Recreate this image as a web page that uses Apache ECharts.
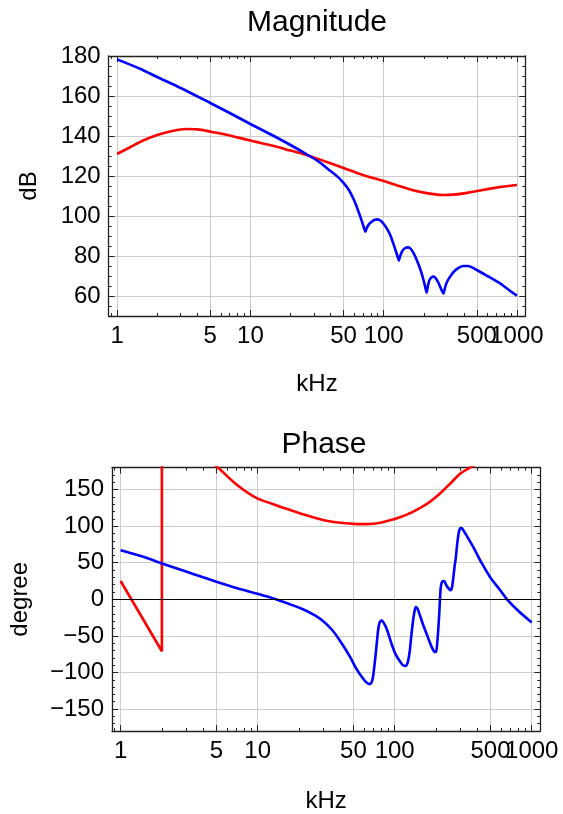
<!DOCTYPE html>
<html><head><meta charset="utf-8">
<script src="https://cdn.jsdelivr.net/npm/echarts@6/dist/echarts.min.js"></script>
<style>html,body{margin:0;padding:0;background:#fff}#c{width:563px;height:814px}</style>
</head><body><div id="c"></div>
<script>
// ---------- tick labels ----------
const freqTicksMajor = [1, 5, 10, 50, 100, 500, 1000];
const freqTicksMinor = [0.9, 2, 3, 4, 6, 7, 8, 9, 20, 30, 40, 60, 70, 80, 90, 200, 300, 400, 600, 700, 800, 900];
const magTicksMajor = [60, 80, 100, 120, 140, 160, 180];
const magTicksMinor = [50, 55, 65, 70, 75, 85, 90, 95, 105, 110, 115, 125, 130, 135, 145, 150, 155, 165, 170, 175];
const phaseTicksMajor = [-150, -100, -50, 0, 50, 100, 150];
const phaseTicksMinor = [-170, -160, -140, -130, -120, -110, -90, -80, -70, -60, -40, -30, -20, -10,
  10, 20, 30, 40, 60, 70, 80, 90, 110, 120, 130, 140, 160, 170];

// ---------- Magnitude (dB) ----------
const magBlueFreq = [1, 1.5, 2, 3, 5, 7, 10, 15, 20, 27, 33, 38.5, 45, 50, 55, 59.3, 63, 66.5, 69, 71, 73,
  74.5, 77, 80, 85, 89.7, 95, 100, 105.5, 112, 118, 124, 127.5, 130, 133, 138, 145, 153, 160, 168, 177,
  188, 199, 205, 210, 214, 220, 230, 239, 248, 258, 268, 276, 281, 287, 296, 315, 340, 370, 396, 430,
  499, 600, 747, 870, 1000];
const magBlueDb = [178.3, 173.5, 169.5, 164, 156.5, 151.5, 146, 140, 135.5, 130.5, 126.9, 123.3, 119.7, 116.6,
  112.9, 108.6, 104.4, 100, 96.8, 94.3, 92.2, 93.8, 95.6, 96.8, 98, 98.3, 97.6, 96, 93.8, 90.5, 86.3, 82, 79.5,
  77.7, 80, 82.5, 84, 84.3, 83.5, 81.3, 78, 73.5, 68, 64.5, 61.7, 64.5, 67.7, 69.5, 69.7, 68.5, 66.5, 64,
  62, 61.3, 63.5, 66.5, 69.7, 72.5, 74.3, 75, 75, 73, 70, 66.3, 63, 60.2];
const magRedFreq = [1, 1.3, 1.6, 2, 2.5, 3.3, 4, 5, 7, 10, 15, 20, 27, 35, 50, 70, 100, 150, 200, 280,
  350, 400, 500, 700, 1000];
const magRedDb = [131, 135, 138, 140.5, 142.3, 143.5, 143.3, 142.2, 140.3, 137.7, 135, 132.7, 130.3,
  127.7, 124, 120.5, 117.5, 113.8, 111.7, 110.5, 110.8, 111.3, 112.5, 114.2, 115.5];

// ---------- Phase (degree) ----------
const phBlueFreq = [1, 1.5, 2, 3, 4, 5, 7, 10, 13.6, 17, 21, 25, 29.5, 35, 41, 47, 52.7, 58, 62, 65.6,
  68, 69.7, 72, 74, 75.7, 77.5, 80, 83, 88, 94.5, 102, 111, 116, 121, 125, 129, 132, 136, 140, 143, 147,
  160, 174, 186, 196, 200, 203, 206, 209, 211.5, 214, 217, 222, 229.6, 240, 256.6, 262, 268, 274, 279,
  286, 294, 302, 310, 330, 379, 430, 500, 580, 660, 800, 1000];
const phBlueDeg = [67, 57.5, 49, 38, 30, 24, 15.5, 7.5, 0, -6.5, -13, -20, -28.6, -42, -60, -78, -95.5, -107,
  -113.5, -116, -113, -104.5, -82, -60, -42, -32, -28.6, -32, -42, -60, -76, -86.6, -90.5, -91, -85, -70,
  -51, -30, -15, -10.7, -13, -33, -51, -65, -72, -72, -66, -52, -35, -19.6, 0, 17, 24, 25, 18, 12.5, 16,
  30, 46, 56, 76, 92, 97.5, 97, 89, 69.6, 50, 29.5, 14, 0, -16, -31.7];
const phRedFreq = [1, 2, 2, 3, 4, 5.2, 7, 9.7, 13, 17.9, 21.1, 25, 31.1, 40, 50, 60, 70, 80, 100, 120,
  147, 180, 217, 260, 303, 340, 370, 400];
const phRedDeg = [25, -71, 289, 226, 197, 179, 157, 139, 130, 121, 116.5, 112.5, 107.8, 104.6, 103.1, 102.7,
  103.2, 105, 109.8, 115, 123, 133, 145.6, 160, 172.3, 178, 182, 185.5];

// ---------- helpers ----------
const FONT = '"Liberation Sans", Arial, sans-serif';
const X_MIN = 0.865, X_MAX = 1155;
const pairs = (xs, ys) => xs.map((x, i) => [x, ys[i]]);
const minus = v => (v < 0 ? '\u2212' + Math.abs(v) : String(v));
const plain = v => String(v);
const frameLine = { show: true, onZero: false, lineStyle: { color: '#222', width: 1.3 } };
const gridLine = { show: true, lineStyle: { color: '#cdcdcd', width: 1 } };
const TICK_FS = 24, NAME_FS = 24;
const tickLabel = (values, fmt, margin) => ({ show: true, customValues: values, margin, fontSize: TICK_FS,
  color: '#000', fontFamily: FONT, formatter: fmt, hideOverlap: false, showMinLabel: true, showMaxLabel: true });

function xAxesFor(gridIndex, nameGap) {
  const c = { gridIndex, type: 'log', logBase: 10, min: X_MIN, max: X_MAX, minorTick: { show: false } };
  return [
    Object.assign({}, c, {
      position: 'bottom', axisLine: frameLine,
      axisTick: { show: true, inside: true, length: 6, customValues: freqTicksMajor, lineStyle: { color: '#222' } },
      axisLabel: tickLabel(freqTicksMajor.slice(0, -1), plain, 8),
      splitLine: gridLine,
      name: 'kHz', nameLocation: 'middle', nameGap, nameMoveOverlap: false,
      nameTextStyle: { fontSize: NAME_FS, color: '#000', fontFamily: FONT }
    }),
    Object.assign({}, c, {
      position: 'top', axisLine: frameLine,
      axisTick: { show: true, inside: true, length: 6, customValues: freqTicksMajor, lineStyle: { color: '#222' } },
      axisLabel: { show: false }, splitLine: { show: false }
    }),
    Object.assign({}, c, {
      position: 'bottom', axisLine: { show: false, onZero: false },
      axisTick: { show: true, inside: true, length: 3, customValues: freqTicksMinor, lineStyle: { color: '#222' } },
      axisLabel: tickLabel(freqTicksMajor.slice(-1), plain, 8), splitLine: { show: false }
    }),
    Object.assign({}, c, {
      position: 'top', axisLine: { show: false, onZero: false },
      axisTick: { show: true, inside: true, length: 3, customValues: freqTicksMinor, lineStyle: { color: '#222' } },
      axisLabel: { show: false }, splitLine: { show: false }
    })
  ];
}

function yAxesFor(gridIndex, min, max, major, minor, name, nameGap) {
  const c = { gridIndex, type: 'value', min, max, minorTick: { show: false } };
  return [
    Object.assign({}, c, {
      position: 'left', axisLine: frameLine,
      axisTick: { show: true, inside: true, length: 6, customValues: major, lineStyle: { color: '#222' } },
      axisLabel: tickLabel(major, minus, 8),
      splitLine: gridLine,
      name, nameLocation: 'middle', nameGap, nameMoveOverlap: false,
      nameTextStyle: { fontSize: NAME_FS, color: '#000', fontFamily: FONT }
    }),
    Object.assign({}, c, {
      position: 'right', axisLine: frameLine,
      axisTick: { show: true, inside: true, length: 6, customValues: major, lineStyle: { color: '#222' } },
      axisLabel: { show: false }, splitLine: { show: false }
    }),
    Object.assign({}, c, {
      position: 'left', axisLine: { show: false, onZero: false },
      axisTick: { show: true, inside: true, length: 3, customValues: minor, lineStyle: { color: '#222' } },
      axisLabel: { show: false }, splitLine: { show: false }
    }),
    Object.assign({}, c, {
      position: 'right', axisLine: { show: false, onZero: false },
      axisTick: { show: true, inside: true, length: 3, customValues: minor, lineStyle: { color: '#222' } },
      axisLabel: { show: false }, splitLine: { show: false }
    })
  ];
}

const redPhaseLow = pairs(phRedFreq, phRedDeg).slice(0, 3);   // 1 → 2 kHz, then the wrap jump
const redPhaseHigh = pairs(phRedFreq, phRedDeg).slice(2);     // continuation after the wrap

const chart = echarts.init(document.getElementById('c'), null, { renderer: 'canvas' });
chart.setOption({
  animation: false,
  backgroundColor: '#fff',
  graphic: [
    { type: 'text', x: 317, y: 22.5, style: { text: 'Magnitude', font: '30px "Liberation Sans", Arial, sans-serif', fill: '#000', align: 'center', verticalAlign: 'middle' } },
    { type: 'text', x: 324, y: 445, style: { text: 'Phase', font: '30px "Liberation Sans", Arial, sans-serif', fill: '#000', align: 'center', verticalAlign: 'middle' } }
  ],
  grid: [
    { left: 108.7, top: 56, width: 416.6, height: 260, containLabel: false },
    { left: 108, top: 467.6, width: 432.3, height: 268.8, containLabel: false }
  ],
  xAxis: xAxesFor(0, 56).concat(xAxesFor(1, 58)),
  yAxis: yAxesFor(0, 50, 180, magTicksMajor, magTicksMinor, 'dB', 67)
    .concat(yAxesFor(1, -180, 180, phaseTicksMajor, phaseTicksMinor, 'degree', 80)),
  series: [
    { type: 'line', xAxisIndex: 0, yAxisIndex: 0, data: pairs(magRedFreq, magRedDb), symbol: 'none', smooth: 0.3,
      lineStyle: { color: '#ff0000', width: 2.6 }, itemStyle: { color: '#ff0000' }, clip: true },
    { type: 'line', xAxisIndex: 0, yAxisIndex: 0, data: pairs(magBlueFreq, magBlueDb), symbol: 'none', smooth: 0.25,
      lineStyle: { color: '#0000ff', width: 2.6 }, itemStyle: { color: '#0000ff' }, clip: true },
    { type: 'line', xAxisIndex: 4, yAxisIndex: 4, data: redPhaseLow, symbol: 'none',
      lineStyle: { color: '#ff0000', width: 2.6 }, itemStyle: { color: '#ff0000' }, clip: true },
    { type: 'line', xAxisIndex: 4, yAxisIndex: 4, data: redPhaseHigh, symbol: 'none', smooth: 0.35,
      lineStyle: { color: '#ff0000', width: 2.6 }, itemStyle: { color: '#ff0000' }, clip: true },
    { type: 'line', xAxisIndex: 4, yAxisIndex: 4, data: pairs(phBlueFreq, phBlueDeg), symbol: 'none', smooth: 0.2,
      lineStyle: { color: '#0000ff', width: 2.6 }, itemStyle: { color: '#0000ff' }, clip: true,
      markLine: { silent: true, symbol: ['none', 'none'], label: { show: false }, animation: false,
        lineStyle: { color: '#000', width: 1.2, type: 'solid' }, data: [{ yAxis: 0 }] } }
  ]
});
</script>
</body></html>
